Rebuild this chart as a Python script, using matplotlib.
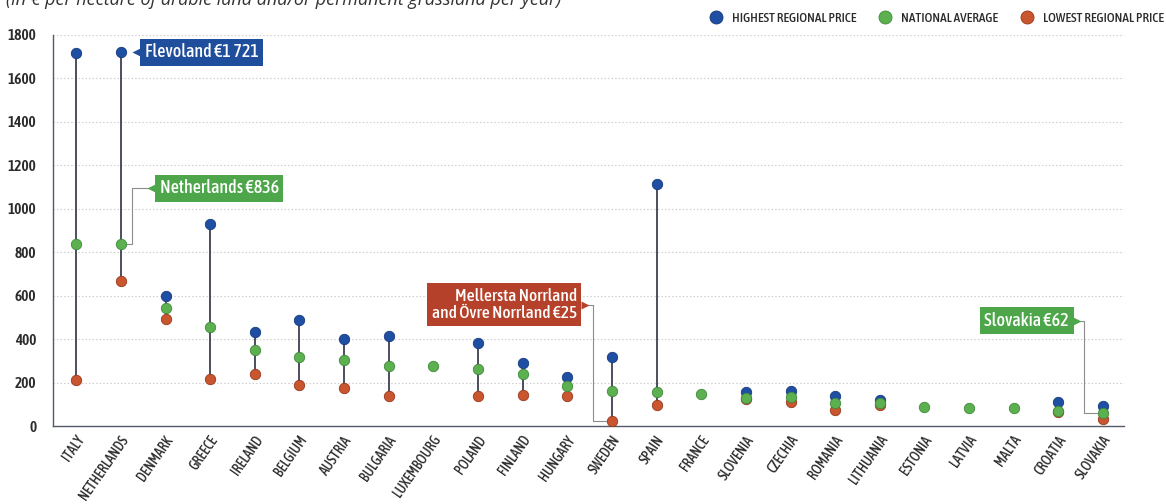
import numpy as np
import matplotlib
matplotlib.use("Agg")
import matplotlib.pyplot as plt
from matplotlib.transforms import ScaledTranslation

nan = np.nan

# ---------------------------------------------------------------------------
# Data (EUR per hectare per year)
# ---------------------------------------------------------------------------
countries = ["ITALY", "NETHERLANDS", "DENMARK", "GREECE", "IRELAND", "BELGIUM",
             "AUSTRIA", "BULGARIA", "LUXEMBOURG", "POLAND", "FINLAND", "HUNGARY",
             "SWEDEN", "SPAIN", "FRANCE", "SLOVENIA", "CZECHIA", "ROMANIA",
             "LITHUANIA", "ESTONIA", "LATVIA", "MALTA", "CROATIA", "SLOVAKIA"]
highest = [1715, 1721, 600, 928, 434, 487, 400, 415, nan, 380, 288, 225,
           318, 1115, nan, 155, 160, 138, 118, nan, nan, nan, 110, 92]
national = [836, 836, 543, 457, 349, 318, 304, 275, 274, 264, 240, 185,
            162, 157, 146, 130, 135, 104, 104, 87, 84, 84, 70, 62]
lowest = [213, 668, 494, 216, 239, 189, 177, 140, nan, 140, 145, 137,
          25, 97, nan, 124, 112, 72, 98, nan, nan, nan, 65, 32]
yticks = [0, 200, 400, 600, 800, 1000, 1200, 1400, 1600, 1800]

subtitle = "(in € per hectare of arable land and/or permanent grassland per year)"
legend_labels = ["HIGHEST REGIONAL PRICE", "NATIONAL AVERAGE", "LOWEST REGIONAL PRICE"]

BLUE, BLUE_E = "#1f4fa3", "#163a7c"
GREEN, GREEN_E = "#5db04f", "#3f8a3a"
RED, RED_E = "#c9562e", "#97381c"
STEM = "#2c3042"
CONN = "#8c8c8c"
TXT = "#2b2b2b"

COND = ["Asap Condensed", "Archivo Narrow", "DejaVu Sans"]
plt.rcParams["font.family"] = COND

fig = plt.figure(figsize=(11.66, 5.04), dpi=100)
ax = fig.add_axes([53 / 1166, 1 - 426 / 504, (1124 - 53) / 1166, (426 - 35) / 504])

x = np.arange(len(countries))
hi = np.array(highest, dtype=float)
mid = np.array(national, dtype=float)
lo = np.array(lowest, dtype=float)

# stems from lowest to highest regional price
for xi, a, b in zip(x, lo, hi):
    if not (np.isnan(a) or np.isnan(b)):
        ax.plot([xi, xi], [a, b], color=STEM, lw=1.2, zorder=2, solid_capstyle="butt")

ms = 7.5
h_hi, = ax.plot(x, hi, "o", ms=ms, color=BLUE, mec=BLUE_E, mew=0.6, zorder=3, ls="none")
h_lo, = ax.plot(x, lo, "o", ms=ms, color=RED, mec=RED_E, mew=0.6, zorder=4, ls="none")
h_mid, = ax.plot(x, mid, "o", ms=ms, color=GREEN, mec=GREEN_E, mew=0.6, zorder=5, ls="none")

ax.set_xlim(-0.52, 23.47)
ax.set_ylim(0, 1800)
ax.set_yticks(yticks)
ax.set_yticklabels([str(v) for v in yticks], fontsize=11, color=TXT, fontweight="semibold")
ax.set_xticks(x)
ax.set_xticklabels(countries, rotation=55, ha="right", va="center",
                   rotation_mode="anchor", fontsize=10, color=TXT, fontweight="medium")
ax.tick_params(axis="both", length=0)
ax.tick_params(axis="y", pad=12)
ax.tick_params(axis="x", pad=8)
for lab in ax.get_xticklabels():
    lab.set_transform(lab.get_transform() + ScaledTranslation(5 / 100, 0, fig.dpi_scale_trans))

for s in ["top", "right"]:
    ax.spines[s].set_visible(False)
for s in ["left", "bottom"]:
    ax.spines[s].set_color("#555a68")
    ax.spines[s].set_linewidth(1.0)

for v in yticks[1:]:
    ax.axhline(v, color="#c9c9c9", lw=0.8, ls=(0, (1.2, 2.0)), zorder=0)

# subtitle, cut at the top edge as in the source
fig.text(6 / 1166, 1 - 5 / 504, subtitle, fontsize=13, style="italic",
         family=["Open Sans", "DejaVu Sans"], color="#333333", va="baseline", ha="left")

# legend
leg = ax.legend([h_hi, h_mid, h_lo], legend_labels, ncol=3, loc="center right",
                bbox_to_anchor=(1164 / 1166, 1 - 18 / 504), bbox_transform=fig.transFigure,
                frameon=False, prop=dict(size=9.5, weight="medium"), handlelength=1.0,
                handletextpad=0.7, columnspacing=1.7, borderpad=0, borderaxespad=0,
                markerscale=1.25)
for t in leg.get_texts():
    t.set_color(TXT)


def off(xd, yd, dx, dy):
    X, Y = ax.transData.transform((xd, yd))
    return ax.transData.inverted().transform((X + dx, Y + dy))


def connector(xd, yd, pts):
    xy = np.array([off(xd, yd, dx, dy) for dx, dy in pts])
    ax.plot(xy[:, 0], xy[:, 1], color=CONN, lw=0.8, zorder=1, clip_on=False)


def callout(xd, yd, text, dx, dy, color, ha, tri_dx, tri_marker, size=13):
    tx, ty = off(xd, yd, dx, dy)
    ax.text(tx, ty, text, ha=ha, va="center", fontsize=size, color="white",
            fontweight="medium", multialignment="right", linespacing=1.0,
            zorder=6, clip_on=False,
            bbox=dict(boxstyle="square,pad=0.25", fc=color, ec="none"))
    px, py = off(xd, yd, tri_dx, dy)
    ax.plot(px, py, marker=tri_marker, ms=5.5, color=color, mec="none",
            zorder=6, clip_on=False)


# Flevoland (highest, Netherlands)
i_nl = countries.index("NETHERLANDS")
callout(i_nl, hi[i_nl], "Flevoland €1 721", 24, 0, "#1f4f9c", "left", 15, "<")

# Netherlands national average
connector(i_nl, mid[i_nl], [(5, 0), (11, 0), (11, 56), (27, 56)])
callout(i_nl, mid[i_nl], "Netherlands €836", 39, 56, "#4da64a", "left", 30, "<")

# Sweden lowest
i_se = countries.index("SWEDEN")
connector(i_se, lo[i_se], [(-24, 116), (-19, 116), (-19, 0), (-5, 0)])
callout(i_se, lo[i_se], "Mellersta Norrland\nand Övre Norrland €25", -35, 116,
        "#b5412a", "right", -27, ">", size=12.5)

# Slovakia national average
i_sk = countries.index("SLOVAKIA")
connector(i_sk, mid[i_sk], [(-24, 92), (-19, 92), (-19, 0), (-6, 0)])
callout(i_sk, mid[i_sk], "Slovakia €62", -34, 92, "#4da64a", "right", -26, ">")

fig.savefig("out.png", dpi=100)
